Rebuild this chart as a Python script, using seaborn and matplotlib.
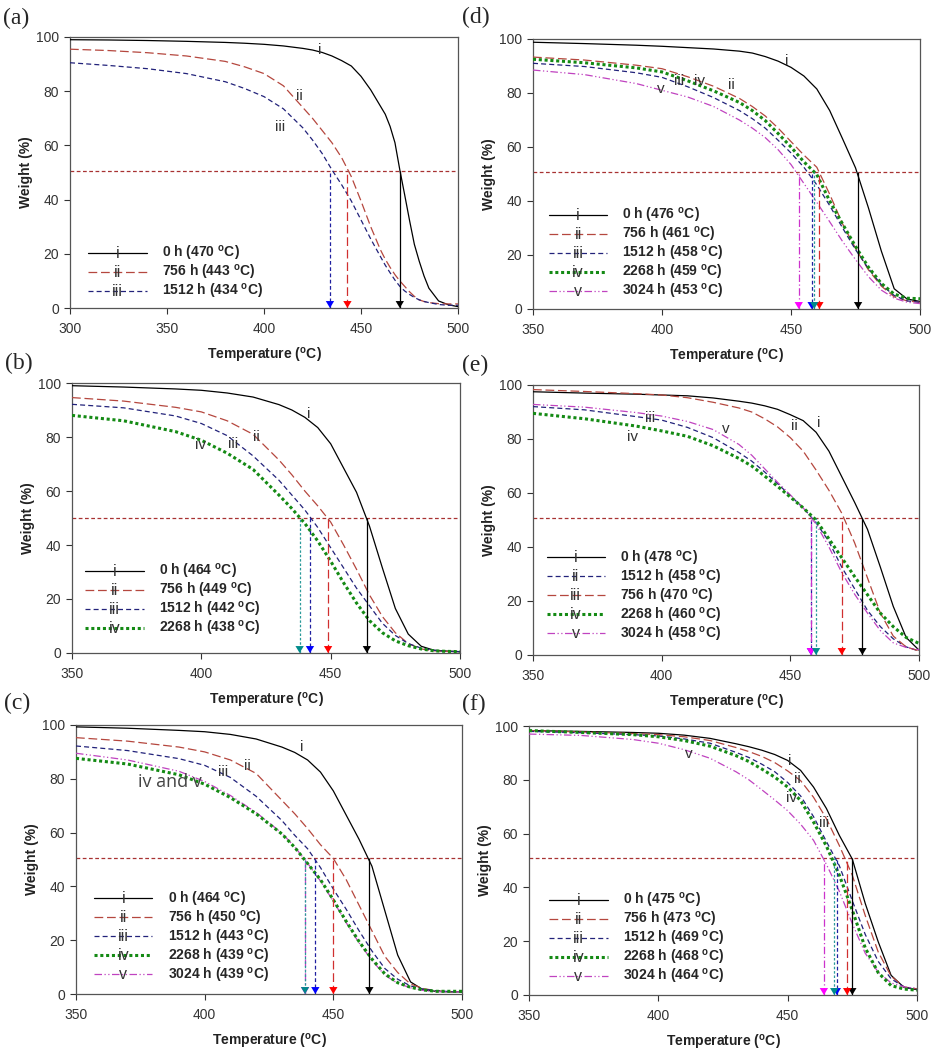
import matplotlib
matplotlib.use("Agg")
import matplotlib.pyplot as plt
import seaborn as sns
from matplotlib.legend_handler import HandlerLine2D
from matplotlib.text import Text

# temperature grids (oC)
T_A = [300, 320, 340, 360, 380, 390, 400, 410, 420, 425, 430, 435, 440, 445, 450, 455,
       460, 462.5, 465, 467.5, 470, 472.5, 475, 477.5, 480, 482.5, 485, 490, 495, 500]
T_BF = [350, 370, 390, 400, 410, 420, 430, 435, 440, 445, 450, 455, 460, 465,
        470, 475, 480, 485, 490, 495, 500]

# (a) weight (%)
A_0H = [99.0, 98.9, 98.7, 98.4, 98.0, 97.7, 97.3, 96.7, 95.8, 95.2, 94.3, 93.0, 91.3,
        89.3, 85.5, 80.5, 74.5, 71.5, 67.0, 61.0, 51.0, 41.8, 32.4, 23.5, 17.3, 11.8,
        7.3, 2.6, 1.2, 0.5]
A_756H = [95.5, 95.0, 94.2, 93.0, 91.0, 89.0, 86.5, 82.0, 74.0, 70.0, 65.5, 61.0, 55.5,
          48.5, 39.5, 30.0, 21.5, 18.0, 15.0, 12.3, 10.0, 8.0, 6.0, 4.3, 3.0, 2.4,
          2.0, 1.6, 1.5, 1.5]
A_1512H = [90.5, 89.5, 88.3, 86.5, 83.5, 81.0, 78.0, 73.5, 66.5, 62.0, 57.0, 51.0, 45.5,
           39.5, 32.5, 25.5, 19.0, 15.8, 13.0, 10.3, 8.0, 6.3, 5.0, 3.9, 3.0, 2.4,
           2.0, 1.3, 1.0, 1.0]

# (b)
B_0H = [99.0, 98.5, 97.8, 97.3, 96.3, 94.8, 92.0, 90.0, 87.3, 83.5, 77.5, 68.5, 59.5,
        47.0, 31.5, 16.5, 7.0, 2.5, 1.0, 0.7, 0.5]
B_756H = [94.6, 93.3, 91.0, 89.3, 86.0, 81.0, 71.5, 66.0, 60.0, 54.5, 48.5, 40.0, 31.0,
          21.5, 13.5, 7.5, 3.5, 1.5, 0.8, 0.6, 0.5]
B_1512H = [92.1, 90.8, 87.8, 85.0, 80.5, 73.0, 64.0, 58.5, 53.0, 46.5, 39.0, 31.5, 24.0,
           17.5, 11.0, 6.5, 3.5, 1.8, 1.0, 0.6, 0.5]
B_2268H = [88.0, 86.0, 82.0, 78.8, 74.0, 68.0, 58.5, 53.5, 48.0, 41.5, 34.0, 26.0, 18.5,
           12.0, 7.5, 4.5, 2.7, 1.5, 0.8, 0.6, 0.5]

# (c)
C_0H = [99.3, 98.8, 98.0, 97.5, 96.5, 94.8, 91.8, 89.8, 87.0, 82.5, 75.5, 66.5, 57.5,
        47.5, 31.0, 14.5, 4.5, 1.5, 1.0, 0.8, 0.8]
C_756H = [95.3, 94.0, 91.8, 90.0, 87.0, 82.0, 72.0, 67.0, 61.5, 55.5, 50.4, 42.5, 33.0,
          23.5, 14.0, 8.0, 3.7, 2.0, 1.2, 0.9, 0.8]
C_1512H = [92.2, 90.5, 87.5, 85.0, 80.5, 73.5, 64.5, 59.0, 54.0, 47.0, 39.0, 31.5, 23.5,
           16.0, 9.5, 5.5, 3.0, 1.8, 1.2, 0.9, 0.8]
C_2268H = [87.6, 85.5, 81.5, 78.0, 73.0, 67.0, 59.5, 54.5, 48.5, 42.5, 35.0, 27.0, 19.5,
           13.0, 7.5, 4.2, 2.5, 1.5, 1.0, 1.0, 1.0]
C_3024H = [89.5, 87.0, 82.8, 79.0, 73.8, 67.5, 59.8, 54.7, 48.6, 42.0, 34.5, 26.5, 19.0,
           12.5, 7.0, 4.0, 2.3, 1.3, 0.9, 0.8, 0.8]

# (d)
D_0H = [98.8, 98.3, 97.7, 97.3, 96.8, 96.3, 95.5, 94.8, 93.5, 91.8, 89.5, 86.3, 81.5,
        73.5, 63.0, 52.3, 37.5, 21.5, 7.5, 3.7, 2.8]
D_756H = [93.3, 92.2, 90.3, 89.0, 86.0, 82.5, 78.0, 75.0, 71.5, 67.0, 62.0, 57.0, 52.5,
          42.5, 31.5, 22.5, 14.5, 8.5, 4.5, 3.0, 2.5]
D_1512H = [91.0, 89.8, 87.5, 85.8, 82.3, 78.3, 73.5, 70.5, 67.0, 62.5, 57.8, 52.5, 46.0,
           38.3, 30.0, 22.0, 15.0, 9.0, 5.0, 3.0, 2.5]
D_2268H = [92.5, 91.2, 89.3, 87.8, 84.5, 80.8, 76.5, 73.5, 69.8, 65.0, 60.0, 54.5, 49.8,
           40.0, 31.5, 23.2, 15.5, 9.5, 5.5, 4.0, 3.8]
D_3024H = [88.5, 86.8, 83.5, 81.0, 78.5, 75.0, 70.0, 67.0, 63.5, 59.0, 53.5, 46.5, 39.5,
           32.3, 25.0, 18.3, 12.0, 7.0, 4.0, 2.5, 2.0]

# (e)
E_0H = [97.5, 97.0, 96.6, 96.3, 96.0, 95.2, 94.0, 93.3, 92.3, 91.0, 89.0, 86.8, 82.5,
        75.5, 66.0, 56.5, 46.5, 32.5, 18.0, 6.5, 1.8]
E_756H = [98.3, 97.6, 96.8, 96.3, 95.3, 93.6, 91.5, 90.0, 87.5, 84.5, 80.5, 75.5, 68.5,
          61.0, 52.5, 41.5, 28.5, 15.5, 7.0, 3.0, 1.5]
E_1512H = [92.0, 90.8, 88.3, 87.0, 84.3, 80.5, 75.0, 71.8, 67.8, 63.5, 59.0, 54.5, 49.0,
           42.0, 32.5, 24.5, 16.5, 10.5, 6.0, 3.0, 1.5]
E_2268H = [89.5, 87.5, 84.8, 83.0, 81.0, 77.5, 72.8, 70.0, 66.3, 62.5, 58.5, 54.5, 50.0,
           43.0, 36.0, 29.0, 22.3, 15.5, 10.5, 6.5, 4.3]
E_3024H = [92.8, 91.8, 89.8, 88.5, 86.5, 83.5, 78.0, 74.0, 69.0, 64.0, 59.3, 54.5, 48.5,
           40.0, 30.5, 22.5, 15.5, 9.0, 4.5, 2.8, 2.0]

# (f)
F_0H = [98.3, 98.0, 97.6, 97.3, 96.6, 95.4, 93.4, 92.3, 91.0, 89.4, 87.2, 83.5, 77.3,
        69.3, 59.3, 50.5, 34.0, 19.8, 7.3, 2.8, 2.0]
F_756H = [98.3, 97.8, 97.2, 96.8, 96.0, 94.6, 92.0, 90.5, 88.7, 86.4, 83.3, 79.7, 73.5,
          65.5, 55.5, 44.5, 29.5, 16.0, 7.0, 3.0, 2.3]
F_1512H = [98.0, 97.5, 96.8, 96.3, 95.2, 93.6, 90.2, 88.3, 85.8, 83.0, 79.0, 74.0, 66.3,
           57.0, 48.0, 35.0, 22.5, 12.5, 6.0, 3.0, 2.0]
F_2268H = [98.3, 97.6, 96.8, 96.0, 94.6, 92.5, 89.0, 86.8, 84.0, 81.0, 77.3, 72.3, 64.3,
           55.3, 44.5, 31.5, 17.5, 8.3, 3.5, 2.2, 1.8]
F_3024H = [97.0, 96.5, 95.0, 93.6, 91.2, 88.0, 83.0, 80.0, 76.3, 72.5, 68.5, 63.5, 57.5,
           48.5, 38.5, 26.5, 15.5, 8.5, 4.5, 3.0, 2.5]

# ageing hours and T50 (from legends), 50 % line level
A_HOURS, A_T50, A_CUT = [0, 756, 1512], [470, 443, 434], 50.5
B_HOURS, B_T50, B_CUT = [0, 756, 1512, 2268], [464, 449, 442, 438], 50.0
C_HOURS, C_T50, C_CUT = [0, 756, 1512, 2268, 3024], [464, 450, 443, 439, 439], 50.4
D_HOURS, D_T50, D_CUT = [0, 756, 1512, 2268, 3024], [476, 461, 458, 459, 453], 50.7
E_HOURS, E_T50, E_CUT = [0, 1512, 756, 2268, 3024], [478, 458, 470, 460, 458], 50.6
F_HOURS, F_T50, F_CUT = [0, 756, 1512, 2268, 3024], [475, 473, 469, 468, 464], 50.8
NUMERALS = ["i", "ii", "iii", "iv", "v"]

# curve labels written inside the plots
A_TAGS = [("i", 428.8, 95.3), ("ii", 418.1, 78.1), ("iii", 408.2, 66.7)]
B_TAGS = [("i", 441.4, 88.4), ("ii", 421.2, 80.0), ("iii", 412.2, 77.3), ("iv", 399.6, 77.0)]
C_TAGS = [("i", 437.8, 91.7), ("ii", 416.6, 84.8), ("iii", 407.0, 82.7)]
D_TAGS = [("i", 448.3, 91.7), ("v", 399.5, 81.5), ("iii", 406.5, 84.3),
          ("iv", 414.7, 84.6), ("ii", 426.9, 83.1)]
E_TAGS = [("iii", 395.3, 87.7), ("v", 425.1, 83.6), ("iv", 388.8, 80.9),
          ("ii", 451.6, 84.8), ("i", 460.9, 85.8)]
F_TAGS = [("v", 411.6, 89.6), ("i", 450.7, 87.1), ("ii", 453.9, 80.2),
          ("iv", 451.3, 73.1), ("iii", 464.2, 64.1)]

# styles per ageing time
LINE = {
    0: dict(color="black", lw=0.9, ls="-"),
    756: dict(color="#b5473e", lw=0.9, ls=(0, (7, 3))),
    1512: dict(color="#22227a", lw=0.9, ls=(0, (4, 2.5))),
    2268: dict(color="#148a14", lw=2.2, ls=(0, (1, 0.9))),
    3024: dict(color="#c043c0", lw=0.9, ls=(0, (6, 2, 1, 2, 1, 2))),
}
SHAFT = {0: ("black", "-"), 756: ("#d03030", (0, (7, 3))), 1512: ("#2020a0", (0, (3, 2))),
         2268: ("#2a9a9a", (0, (2, 1.5))), 3024: ("#cc33cc", (0, (6, 2, 1, 2)))}
HEAD = {0: "black", 756: "#ff0000", 1512: "#0000ff", 2268: "#008b8b", 3024: "#ff00ff"}


class NumeralHandler(HandlerLine2D):
    """legend line with the roman numeral sitting on it"""
    def __init__(self, numeral, **kw):
        super().__init__(**kw)
        self.numeral = numeral

    def create_artists(self, legend, orig_handle, xdescent, ydescent, width, height,
                       fontsize, trans):
        artists = super().create_artists(legend, orig_handle, xdescent, ydescent,
                                         width, height, fontsize, trans)
        tag = Text(width / 2 - xdescent, (height - ydescent) / 2, self.numeral,
                   ha="center", va="center", fontsize=11.5,
                   color="#333333", transform=trans)
        return artists + [tag]


sns.set_theme(style="ticks")
plt.rcParams["font.family"] = ["Liberation Sans", "DejaVu Sans"]
plt.rcParams["mathtext.fontset"] = "custom"
plt.rcParams["mathtext.rm"] = "Liberation Sans"
plt.rcParams["mathtext.bf"] = "Liberation Sans:bold"
plt.rcParams["mathtext.it"] = "Liberation Sans:italic"

fig = plt.figure(figsize=(9.4, 10.5), dpi=100)

W, H = 940, 1050
# (name, label pos px, axes box px [left, top, right, bottom], temps, curves, hours, t50, cut, tags, legend anchor)
panels = [
    ("(a)", (3, 18), (70, 37, 458, 308), T_A, [A_0H, A_756H, A_1512H],
     A_HOURS, A_T50, A_CUT, A_TAGS, (0.047, 0.235)),
    ("(b)", (5, 363), (72, 383, 460, 653), T_BF, [B_0H, B_756H, B_1512H, B_2268H],
     B_HOURS, B_T50, B_CUT, B_TAGS, (0.034, 0.336)),
    ("(c)", (4, 703), (76, 725, 462, 994), T_BF, [C_0H, C_756H, C_1512H, C_2268H, C_3024H],
     C_HOURS, C_T50, C_CUT, C_TAGS, (0.047, 0.388)),
    ("(d)", (462, 17), (533, 39, 920, 309), T_BF, [D_0H, D_756H, D_1512H, D_2268H, D_3024H],
     D_HOURS, D_T50, D_CUT, D_TAGS, (0.041, 0.380)),
    ("(e)", (462, 365), (533, 385, 919, 655), T_BF, [E_0H, E_1512H, E_756H, E_2268H, E_3024H],
     E_HOURS, E_T50, E_CUT, E_TAGS, (0.035, 0.394)),
    ("(f)", (462, 704), (529, 726, 917, 995), T_BF, [F_0H, F_756H, F_1512H, F_2268H, F_3024H],
     F_HOURS, F_T50, F_CUT, F_TAGS, (0.052, 0.385)),
]

for name, lab_xy, box, temps, curves, hours, t50s, cut, tags, leg_xy in panels:
    l, t, r, b = box
    ax = fig.add_axes([l / W, 1 - b / H, (r - l) / W, (b - t) / H])

    handles, labels, hmap = [], [], {}
    for k, (wt, h, t50) in enumerate(zip(curves, hours, t50s)):
        st = LINE[h]
        n = len(ax.lines)
        sns.lineplot(x=temps, y=wt, ax=ax, estimator=None, sort=False,
                     color=st["color"], lw=st["lw"], linestyle=st["ls"],
                     zorder=3 + (0.5 if h == 2268 else 0))
        line = ax.lines[n]
        handles.append(line)
        labels.append(f"{h} h ({t50} $^\\mathbf{{o}}$C)")
        hmap[line] = NumeralHandler(NUMERALS[k])

    ax.axhline(cut, color="#a83232", lw=0.9, ls=(0, (3, 2)), zorder=2)

    for h, t50 in zip(hours, t50s):
        c, ls = SHAFT[h]
        z = 6 + (0.5 if h == 2268 else 0)
        ax.vlines(t50, 0, cut, colors=c, linestyles=[ls], lw=0.9, zorder=z)
        ax.annotate("", xy=(t50, 0), xytext=(t50, cut), annotation_clip=False,
                    arrowprops=dict(arrowstyle="-|>,head_length=0.5,head_width=0.3",
                                    color=HEAD[h], lw=0, shrinkA=0, shrinkB=0,
                                    mutation_scale=10), zorder=z + 1)

    for tag, tx, ty in tags:
        ax.text(tx, ty, tag, ha="center", va="center", fontsize=11, color="#333333", zorder=8)
    if name == "(c)":
        ax.text(386.6, 78.9, "iv and v", ha="center", va="center", fontsize=13,
                color="#444444", family="Open Sans", zorder=8)

    ax.legend(handles, labels, handler_map=hmap, loc="upper left",
              bbox_to_anchor=leg_xy, frameon=False, borderpad=0, borderaxespad=0,
              handlelength=4.2, handletextpad=1.1, labelspacing=0.0,
              prop=dict(weight="bold", size=10))

    x0 = temps[0]
    ax.set_xlim(x0, 500)
    ax.set_ylim(0, 100)
    ax.set_xticks(list(range(x0, 501, 50)))
    ax.set_yticks(list(range(0, 101, 20)))
    ax.tick_params(direction="out", length=4, width=0.8, labelsize=10,
                   colors="#333333", pad=4)
    ax.tick_params(axis="x", pad=6)
    for s in ax.spines.values():
        s.set_color("#555555")
        s.set_linewidth(0.9)
    ax.set_xlabel("Temperature ($^\\mathbf{o}$C)", fontsize=10, fontweight="bold",
                  labelpad=7, color="#222222")
    ax.set_ylabel("Weight (%)", fontsize=10, fontweight="bold", labelpad=2,
                  color="#222222")

    fig.text(lab_xy[0] / W, 1 - lab_xy[1] / H, name, family="Liberation Serif",
             fontsize=17, ha="left", va="center")

fig.savefig("out.png", dpi=100)
